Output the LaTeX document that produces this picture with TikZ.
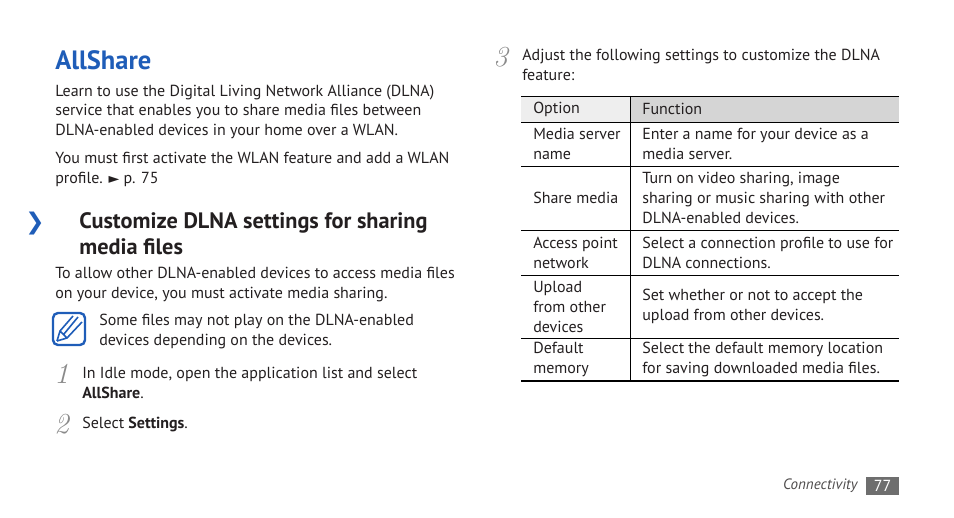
\documentclass[tikz,border=0pt]{standalone}
\usepackage{fontspec}
\newfontfamily\pagefont{PT Sans}
\newfontfamily\dingfont{DejaVu Sans}
\usepackage{tikz}
\usetikzlibrary{positioning}
\definecolor{allblue}{HTML}{1F5DB8}
\definecolor{txt}{HTML}{231F20}
\definecolor{numgray}{HTML}{8A8A8A}
\definecolor{headlight}{HTML}{EEEEEE}
\definecolor{headdark}{HTML}{D5D5D5}
\definecolor{pagegray}{HTML}{6E6E6E}

\begin{document}
\begin{tikzpicture}[x=1pt, y=-1pt, semithick]
    \tikzstyle{every node}=[inner sep=0pt, text=txt, font=\pagefont\fontsize{16}{19.5}\selectfont]
    % base of a multi-line node = baseline of its last line
    \tikzstyle{para}=[anchor=base west, align=left]
    \tikzstyle{h1}=[anchor=base west, text=allblue, font=\pagefont\fontsize{26.5}{30}\selectfont\bfseries]
    \tikzstyle{h2}=[anchor=base west, align=left, font=\pagefont\fontsize{22.3}{26}\selectfont\bfseries]
    \tikzstyle{num}=[anchor=base west, text=numgray, font=\fontsize{29}{29}\selectfont\itshape]
    \tikzstyle{cell}=[anchor=west, align=left, font=\pagefont\fontsize{16}{20}\selectfont]

    \useasboundingbox (0,0) rectangle (954,518);

    % left column
    \node[h1]    (title) at (55,70) {AllShare};
    \node[para]  (intro) at (55,135.5) {Learn to use the Digital Living Network Alliance (DLNA)\\
        service that enables you to share media files between\\
        DLNA-enabled devices in your home over a WLAN.};
    \node[para]  (wlan) at (55,183.5) {You must first activate the WLAN feature and add a WLAN\\
        profile. {\dingfont\fontsize{14}{14}\selectfont ►} p. 75};

    \node[anchor=base west, text=allblue, font=\dingfont\fontsize{23}{23}\selectfont\bfseries] (chev) at (25,229.5) {❯};
    \node[h2]    (custom) at (79,255) {Customize DLNA settings for sharing\\media files};
    \node[para]  (allow) at (55,298.5) {To allow other DLNA-enabled devices to access media files\\
        on your device, you must activate media sharing.};

    % note icon
    \draw[allblue, line width=2.4, rounded corners=5] (53,313) rectangle (85,345);
    \draw[allblue, line width=1.6, line join=round] (57,341) -- (60,331) -- (73,316)
        (57,341) -- (67,338) -- (82,322)
        (60,331) -- (67,338)
        (64,334) -- (78,317);
    \node[para]  (note) at (99,345.5) {Some files may not play on the DLNA-enabled\\
        devices depending on the devices.};

    \node[num]   (n1) at (54,383.5) {1};
    \node[para]  (step1) at (82,398.5) {In Idle mode, open the application list and select\\
        \textbf{AllShare}.};
    \node[num]   (n2) at (54,433.5) {2};
    \node[para]  (step2) at (82,428.5) {Select \textbf{Settings}.};

    % right column
    \node[num]   (n3) at (493,66.5) {3};
    \node[para]  (step3) at (522,80.5) {Adjust the following settings to customize the DLNA\\
        feature:};

    \fill[headlight] (521,96) rectangle (630,122);
    \fill[headdark] (630,96) rectangle (899,122);
    \foreach \y in {96,122,166,230,275,338}
        \draw[line width=0.8] (521,\y) -- (899,\y);
    \draw[line width=2] (521,381) -- (899,381);
    \draw[line width=0.8] (630,96) -- (630,381);

    \node[cell]  (opt) at (533,109) {Option};
    \node[cell]  (fun) at (642,109) {Function};
    \node[cell]  (o1) at (533,144) {Media server\\name};
    \node[cell]  (f1) at (642,144) {Enter a name for your device as a\\media server.};
    \node[cell]  (o2) at (533,198) {Share media};
    \node[cell]  (f2) at (642,198) {Turn on video sharing, image\\sharing or music sharing with other\\DLNA-enabled devices.};
    \node[cell]  (o3) at (533,252.5) {Access point\\network};
    \node[cell]  (f3) at (642,252.5) {Select a connection profile to use for\\DLNA connections.};
    \node[cell]  (o4) at (533,306.5) {Upload\\from other\\devices};
    \node[cell]  (f4) at (642,306.5) {Set whether or not to accept the\\upload from other devices.};
    \node[cell]  (o5) at (533,359.5) {Default\\memory};
    \node[cell]  (f5) at (642,359.5) {Select the default memory location\\for saving downloaded media files.};

    % footer
    \node[fill=pagegray, text=white, minimum width=33, minimum height=18, font=\pagefont\fontsize{16}{16}\selectfont] (page) at (882.5,486) {77};
    \node[anchor=east, text=txt!80, font=\pagefont\fontsize{15}{15}\selectfont\itshape, left=8pt of page] (chap) {Connectivity};

\end{tikzpicture}
\end{document}
